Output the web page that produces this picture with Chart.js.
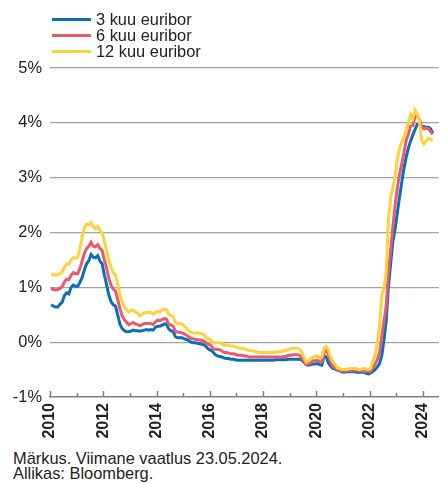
<!DOCTYPE html>
<html lang="et">
<head>
<meta charset="UTF-8">
<title>Euribor</title>
<script src="https://cdn.jsdelivr.net/npm/chart.js"></script>
<style>
  body { margin: 0; background: #fff; font-family: "Liberation Sans", Arial, sans-serif; color: #222; }
  #wrap { position: relative; width: 448px; height: 484px; overflow: hidden; }
  #chart { position: absolute; left: 0; top: 0; }
  .leg { position: absolute; left: 52px; height: 16px; line-height: 16px; font-size: 16.4px; white-space: nowrap; }
  .leg i { display: inline-block; width: 39px; height: 3px; vertical-align: middle; margin-right: 5px; position: relative; top: -1px; }
  #note { position: absolute; left: 13px; top: 451px; font-size: 16.4px; line-height: 15px; }
</style>
</head>
<body>
<div id="wrap">
  <canvas id="chart" width="448" height="445"></canvas>
  <div id="legend"></div>
  <div id="note">Märkus. Viimane vaatlus 23.05.2024.<br>Allikas: Bloomberg.</div>
</div>
<script>
// monthly averages, Jan 2010 .. May 2024
const startYear = 2010;
const seriesNames = ['3 kuu euribor', '6 kuu euribor', '12 kuu euribor'];
const seriesColors = ['#0a6fb8', '#e95b6c', '#fdd23a'];

const euribor3m = [
  0.68, 0.66, 0.64, 0.64, 0.69, 0.73, 0.85, 0.90, 0.88, 1.00, 1.04, 1.02,
  1.02, 1.09, 1.18, 1.32, 1.43, 1.49, 1.60, 1.55, 1.54, 1.58, 1.48, 1.43,
  1.22, 1.05, 0.86, 0.74, 0.68, 0.66, 0.50, 0.33, 0.25, 0.21, 0.19, 0.19,
  0.20, 0.22, 0.21, 0.21, 0.20, 0.21, 0.22, 0.23, 0.22, 0.23, 0.22, 0.27,
  0.29, 0.29, 0.31, 0.33, 0.33, 0.24, 0.21, 0.19, 0.10, 0.08, 0.08, 0.08,
  0.06, 0.05, 0.03, 0.00, -0.01, -0.01, -0.02, -0.03, -0.04, -0.05, -0.09, -0.13,
  -0.15, -0.18, -0.23, -0.25, -0.26, -0.27, -0.29, -0.30, -0.30, -0.31, -0.31, -0.32,
  -0.33, -0.33, -0.33, -0.33, -0.33, -0.33, -0.33, -0.33, -0.33, -0.33, -0.33, -0.33,
  -0.33, -0.33, -0.33, -0.33, -0.33, -0.32, -0.32, -0.32, -0.32, -0.32, -0.32, -0.31,
  -0.31, -0.31, -0.31, -0.31, -0.31, -0.33, -0.37, -0.41, -0.42, -0.41, -0.40, -0.40,
  -0.39, -0.41, -0.42, -0.25, -0.27, -0.38, -0.44, -0.48, -0.49, -0.51, -0.52, -0.54,
  -0.55, -0.54, -0.54, -0.54, -0.54, -0.54, -0.55, -0.55, -0.55, -0.55, -0.57, -0.58,
  -0.56, -0.53, -0.50, -0.45, -0.39, -0.24, 0.04, 0.39, 1.01, 1.43, 1.83, 2.06,
  2.35, 2.64, 2.91, 3.17, 3.37, 3.54, 3.67, 3.78, 3.88, 3.97, 3.97, 3.94,
  3.93, 3.92, 3.92, 3.89, 3.81
];

const euribor6m = [
  0.98, 0.96, 0.95, 0.96, 0.98, 1.01, 1.10, 1.15, 1.14, 1.22, 1.27, 1.25,
  1.25, 1.35, 1.48, 1.62, 1.71, 1.75, 1.82, 1.75, 1.74, 1.78, 1.71, 1.67,
  1.50, 1.35, 1.16, 1.04, 0.97, 0.93, 0.78, 0.61, 0.48, 0.41, 0.36, 0.32,
  0.34, 0.36, 0.33, 0.32, 0.30, 0.32, 0.34, 0.34, 0.34, 0.34, 0.32, 0.37,
  0.40, 0.39, 0.41, 0.43, 0.42, 0.33, 0.31, 0.29, 0.20, 0.18, 0.18, 0.17,
  0.15, 0.13, 0.10, 0.07, 0.06, 0.05, 0.05, 0.04, 0.03, 0.02, -0.02, -0.04,
  -0.06, -0.12, -0.13, -0.13, -0.14, -0.16, -0.19, -0.19, -0.20, -0.21, -0.21, -0.22,
  -0.24, -0.24, -0.24, -0.25, -0.25, -0.27, -0.27, -0.27, -0.27, -0.27, -0.27, -0.27,
  -0.27, -0.27, -0.27, -0.27, -0.27, -0.27, -0.27, -0.27, -0.27, -0.26, -0.26, -0.24,
  -0.24, -0.23, -0.23, -0.23, -0.24, -0.29, -0.35, -0.41, -0.39, -0.37, -0.34, -0.34,
  -0.33, -0.36, -0.36, -0.19, -0.14, -0.23, -0.37, -0.44, -0.47, -0.50, -0.52, -0.52,
  -0.53, -0.52, -0.51, -0.52, -0.51, -0.51, -0.51, -0.52, -0.52, -0.53, -0.52, -0.54,
  -0.53, -0.47, -0.40, -0.32, -0.19, 0.10, 0.38, 0.66, 1.26, 1.68, 2.10, 2.49,
  2.80, 3.06, 3.25, 3.45, 3.68, 3.79, 3.94, 3.95, 4.12, 4.12, 4.06, 3.93,
  3.89, 3.90, 3.89, 3.84, 3.79
];

const euribor12m = [
  1.23, 1.23, 1.22, 1.23, 1.25, 1.28, 1.37, 1.42, 1.42, 1.50, 1.54, 1.53,
  1.55, 1.71, 1.92, 2.09, 2.15, 2.14, 2.18, 2.10, 2.07, 2.11, 2.04, 2.00,
  1.84, 1.68, 1.50, 1.37, 1.27, 1.22, 1.06, 0.88, 0.74, 0.65, 0.59, 0.55,
  0.58, 0.59, 0.55, 0.53, 0.48, 0.51, 0.53, 0.54, 0.54, 0.54, 0.51, 0.54,
  0.56, 0.55, 0.58, 0.60, 0.59, 0.51, 0.49, 0.47, 0.36, 0.34, 0.34, 0.33,
  0.30, 0.25, 0.21, 0.18, 0.17, 0.16, 0.17, 0.16, 0.15, 0.13, 0.08, 0.06,
  0.04, -0.01, -0.01, -0.01, -0.01, -0.03, -0.06, -0.05, -0.06, -0.07, -0.07, -0.08,
  -0.10, -0.11, -0.11, -0.12, -0.13, -0.15, -0.15, -0.16, -0.17, -0.18, -0.19, -0.19,
  -0.19, -0.19, -0.19, -0.19, -0.19, -0.18, -0.18, -0.17, -0.17, -0.15, -0.15, -0.13,
  -0.12, -0.11, -0.11, -0.11, -0.13, -0.19, -0.28, -0.36, -0.34, -0.30, -0.27, -0.26,
  -0.25, -0.29, -0.27, -0.11, -0.08, -0.15, -0.28, -0.36, -0.41, -0.47, -0.48, -0.50,
  -0.50, -0.50, -0.49, -0.48, -0.48, -0.48, -0.49, -0.50, -0.49, -0.48, -0.49, -0.50,
  -0.48, -0.34, -0.24, 0.01, 0.29, 0.85, 0.99, 1.25, 2.23, 2.63, 2.83, 3.02,
  3.34, 3.53, 3.65, 3.74, 3.86, 4.01, 4.15, 4.07, 4.23, 4.16, 4.02, 3.68,
  3.61, 3.67, 3.72, 3.70, 3.68
];

const yTicks = [-1, 0, 1, 2, 3, 4, 5];
const xLabelYears = [2010, 2012, 2014, 2016, 2018, 2020, 2022, 2024];

// legend as html
const legend = document.getElementById('legend');
seriesNames.forEach((name, i) => {
  const row = document.createElement('div');
  row.className = 'leg';
  row.style.top = (11 + i * 15.8) + 'px';
  row.innerHTML = '<i style="background:' + seriesColors[i] + '"></i>' + name;
  legend.appendChild(row);
});

function toPoints(values) {
  return values.map((v, i) => ({ x: startYear + (i + 0.5) / 12, y: v }));
}

// small year ticks pointing up from the bottom axis
const yearTicks = {
  id: 'yearTicks',
  afterDraw(chart) {
    const ctx = chart.ctx;
    const xs = chart.scales.x;
    const bottom = chart.chartArea.bottom;
    ctx.save();
    ctx.strokeStyle = '#808080';
    ctx.lineWidth = 1.5;
    for (let yr = 2010; yr <= 2024; yr++) {
      const px = Math.round(xs.getPixelForValue(yr)) + 0.5;
      const len = yr % 2 === 0 ? 6 : 4;
      ctx.beginPath();
      ctx.moveTo(px, bottom);
      ctx.lineTo(px, bottom - len);
      ctx.stroke();
    }
    ctx.restore();
  }
};

const allSeries = [euribor3m, euribor6m, euribor12m];

new Chart(document.getElementById('chart'), {
  type: 'line',
  data: {
    datasets: allSeries.map((vals, i) => ({
      label: seriesNames[i],
      data: toPoints(vals),
      borderColor: seriesColors[i],
      backgroundColor: seriesColors[i],
      borderWidth: 3,
      pointRadius: 0,
      tension: 0,
      order: 2 - i
    }))
  },
  options: {
    responsive: false,
    animation: false,
    layout: { padding: { top: 68, right: 0, left: 0, bottom: 0 } },
    plugins: {
      legend: { display: false },
      tooltip: { enabled: false }
    },
    scales: {
      x: {
        type: 'linear',
        min: 2010,
        max: 2024.6,
        grid: { display: false, drawTicks: false },
        border: { display: true, color: '#808080', width: 1.5 },
        afterFit: s => { s.height = 48; },
        afterBuildTicks: s => { s.ticks = xLabelYears.map(v => ({ value: v })); },
        ticks: {
          autoSkip: false,
          minRotation: 90,
          maxRotation: 90,
          padding: 6,
          color: '#222',
          font: { family: '"Liberation Sans", Arial, sans-serif', size: 16, weight: 'bold' },
          callback: v => String(v)
        }
      },
      y: {
        min: -1,
        max: 5,
        afterBuildTicks: s => { s.ticks = yTicks.map(v => ({ value: v })); },
        afterFit: s => { s.width = 50; },
        grid: {
          drawTicks: false,
          lineWidth: 1.2,
          color: c => c.tick && c.tick.value === -1 ? 'rgba(0,0,0,0)' : '#a3a3a3'
        },
        border: { display: false },
        ticks: {
          padding: 8,
          color: '#222',
          font: { family: '"Liberation Sans", Arial, sans-serif', size: 16.4 },
          callback: v => v + '%'
        }
      }
    }
  },
  plugins: [yearTicks]
});
</script>
</body>
</html>
